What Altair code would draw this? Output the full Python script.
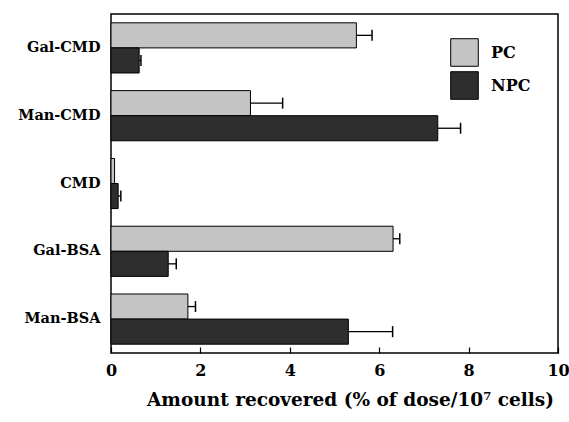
import altair as alt
import pandas as pd

categories = ["Gal-CMD", "Man-CMD", "CMD", "Gal-BSA", "Man-BSA"]
groups = ["PC", "NPC"]
pc_values = [5.49, 3.12, 0.08, 6.31, 1.72]
pc_errors = [0.35, 0.72, 0.0, 0.15, 0.17]
npc_values = [0.63, 7.31, 0.16, 1.28, 5.31]
npc_errors = [0.04, 0.51, 0.06, 0.18, 0.99]
x_ticks = [0, 2, 4, 6, 8, 10]

rows = []
for i, c in enumerate(categories):
    rows.append({"category": c, "group": "PC", "value": pc_values[i], "err": pc_errors[i], "hi": pc_values[i] + pc_errors[i]})
    rows.append({"category": c, "group": "NPC", "value": npc_values[i], "err": npc_errors[i], "hi": npc_values[i] + npc_errors[i]})
df = pd.DataFrame(rows)

FONT = "DejaVu Serif"

y_enc = alt.Y("category:N", sort=categories, title=None,
              scale=alt.Scale(paddingInner=0.26, paddingOuter=0.13),
              axis=alt.Axis(ticks=False, domain=False, labelFont=FONT, labelFontSize=14.5,
                            labelFontWeight="bold", labelPadding=11, labelColor="black"))
yoff_enc = alt.YOffset("group:N", sort=groups, scale=alt.Scale(paddingInner=0, paddingOuter=0))

x_enc = alt.X("value:Q", title="Amount recovered (% of dose/10\u2077 cells)",
              scale=alt.Scale(domain=[0, 10], nice=False),
              axis=alt.Axis(values=x_ticks, grid=False, domain=False, offset=-6, tickSize=6,
                            tickColor="black", tickWidth=1.2, labelFlush=False,
                            labelFont=FONT, labelFontSize=16, labelFontWeight="bold",
                            labelColor="black", labelPadding=9,
                            titleFont=FONT, titleFontSize=18.5, titleFontWeight="bold",
                            titleColor="black", titlePadding=12, titleX=239))

color_enc = alt.Color("group:N", sort=groups,
                      scale=alt.Scale(domain=groups, range=["#c4c4c4", "#2e2e2e"]),
                      legend=alt.Legend(title=None, orient="none", legendX=339, legendY=24,
                                        symbolType="square", symbolSize=760,
                                        symbolStrokeColor="black", symbolStrokeWidth=1,
                                        symbolOpacity=1,
                                        labelFont=FONT, labelFontSize=16, labelFontWeight="bold",
                                        labelColor="black", labelOffset=12, rowPadding=0,
                                        padding=0))

bars = alt.Chart(df).mark_bar(stroke="black", strokeWidth=1, opacity=1).encode(
    x=x_enc, y=y_enc, yOffset=yoff_enc, color=color_enc
)

err_df = df[df["err"] > 0]
rules = alt.Chart(err_df).mark_rule(color="black", strokeWidth=1.3).encode(
    x="value:Q", x2="hi:Q", y=alt.Y("category:N", sort=categories), yOffset=yoff_enc
)
caps = alt.Chart(err_df).mark_tick(color="black", thickness=1.5, size=11, opacity=1).encode(
    x="hi:Q", y=alt.Y("category:N", sort=categories), yOffset=yoff_enc
)

chart = alt.layer(bars, rules, caps).properties(
    width=447, height=339,
    background="white",
    autosize=alt.AutoSizeParams(type="none"),
    padding={"left": 111, "top": 14, "right": 11, "bottom": 69},
).configure_view(stroke="black", strokeWidth=1.5)

chart.save("out.html", embed_options={"renderer": "svg", "actions": False})
